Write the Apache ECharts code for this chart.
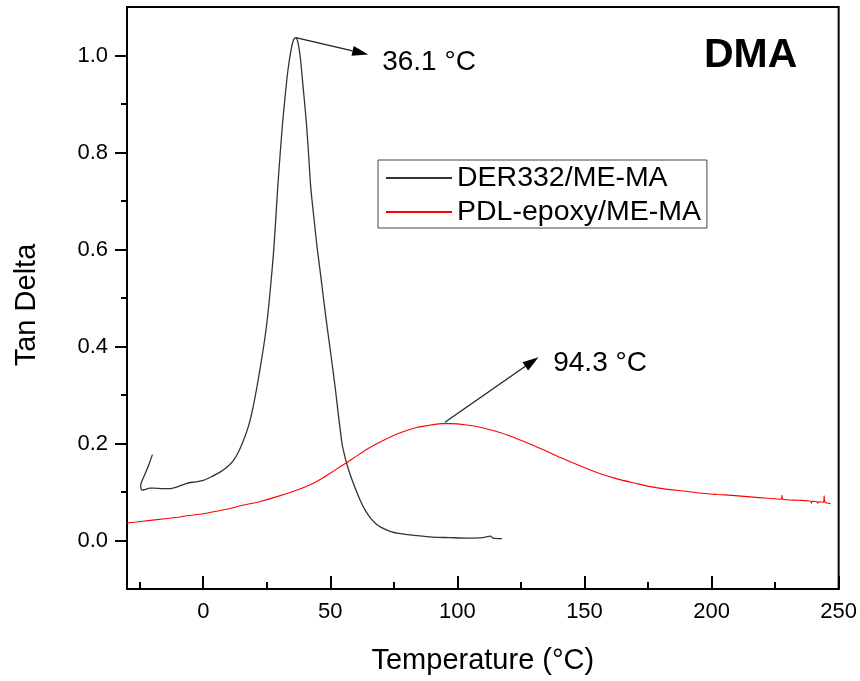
<!DOCTYPE html>
<html>
<head>
<meta charset="utf-8">
<script src="https://cdn.jsdelivr.net/npm/echarts@6/dist/echarts.min.js"></script>
<style>
html,body{margin:0;padding:0;background:#fff;}
#chart{width:860px;height:681px;}
</style>
</head>
<body>
<div id="chart"></div>
<script>
// ---- data ----
var seriesNames = ['DER332/ME-MA', 'PDL-epoxy/ME-MA'];
var derData = [
  [-20.0,0.177],[-21.5,0.155],[-22.9,0.137],[-24.0,0.124],[-24.6,0.115],[-24.5,0.107],[-24.0,0.104],[-23.0,0.105],
  [-21.0,0.108],[-19.6,0.108],[-16.0,0.107],[-13.1,0.107],[-10.0,0.111],[-6.5,0.118],[-3.0,0.121],[0.0,0.124],
  [3.0,0.131],[6.6,0.141],[9.5,0.152],[11.9,0.165],[14.0,0.184],[15.8,0.206],[17.2,0.226],[18.4,0.247],
  [19.8,0.280],[21.1,0.316],[22.7,0.365],[24.3,0.419],[25.5,0.470],[26.6,0.530],[27.6,0.590],[28.5,0.660],
  [29.3,0.728],[30.3,0.800],[31.3,0.866],[32.3,0.920],[33.3,0.969],[34.5,1.010],[35.5,1.032],[36.4,1.037],
  [37.2,1.028],[38.1,1.000],[39.2,0.940],[40.5,0.866],[41.4,0.800],[42.3,0.728],[43.6,0.662],[44.9,0.600],
  [46.0,0.555],[47.3,0.500],[48.3,0.458],[49.3,0.419],[50.6,0.368],[51.9,0.316],[53.2,0.258],[54.6,0.200],
  [55.5,0.178],[56.3,0.161],[58.0,0.133],[60.0,0.105],[62.0,0.080],[64.0,0.060],[66.0,0.045],[68.0,0.034],
  [70.0,0.027],[73.5,0.019],[77.5,0.014],[84.0,0.010],[90.0,0.007],[97.0,0.006],[104.0,0.005],[110.0,0.006],
  [113.0,0.009],[114.0,0.005],[117.5,0.004]
];
var pdlData = [
  [-30,0.036],[-20,0.042],[-10,0.048],[-6.5,0.051],[0,0.055],[6.6,0.062],[10.5,0.066],[15,0.072],[22,0.080],
  [30,0.092],[38,0.106],[43.3,0.118],[47,0.129],[51.2,0.143],[56.5,0.161],[60,0.173],[64.4,0.188],[70,0.204],
  [77.5,0.222],[84,0.233],[90.6,0.239],[94.3,0.241],[97.2,0.241],[103.7,0.238],[110.3,0.232],[117,0.222],
  [123.4,0.210],[130,0.196],[136,0.182],[140.5,0.171],[149.6,0.151],[156,0.138],[162.8,0.127],[170,0.118],
  [175.9,0.111],[182,0.106],[189,0.102],[195,0.098],[202.2,0.095],[208,0.093],[215.3,0.090],[222,0.087],
  [227.4,0.085],[227.7,0.093],[228.0,0.085],[234,0.083],[239.0,0.081],[239.3,0.077],[239.6,0.081],[241.5,0.080],
  [241.8,0.077],[242.1,0.080],[244.0,0.079],[244.3,0.092],[244.6,0.079],[246.8,0.076]
];
var xMajorTicks = [0, 50, 100, 150, 200, 250];
var xMinorTicks = [-25, 25, 75, 125, 175, 225];
var yMajorTicks = [0.0, 0.2, 0.4, 0.6, 0.8, 1.0];
var yMinorTicks = [0.1, 0.3, 0.5, 0.7, 0.9];
// annotation arrows: [fromX, fromY, toX, toY, textX, textY]
var annoArrows = [
  [36.4, 1.037, 64.9, 1.002, 70.4, 0.985],
  [95.1, 0.244, 131.9, 0.378, 137.7, 0.365]
];
var annoLabels = ['36.1 \u00B0C', '94.3 \u00B0C'];

// ---- chart ----
var F = 'Liberation Sans, Arial, sans-serif';
var chart = echarts.init(document.getElementById('chart'), null, {renderer: 'canvas'});

var option = {
  animation: false,
  backgroundColor: '#fff',
  title: {
    text: 'DMA', left: 704, top: 35, padding: 0,
    textStyle: {fontSize: 41, fontWeight: 'bold', fontFamily: F, color: '#000'}
  },
  legend: {
    data: seriesNames,
    orient: 'vertical',
    left: 378, top: 160,
    padding: [3, 6, 1, 7],
    itemWidth: 66, itemHeight: 14, itemGap: 4,
    borderColor: '#444', borderWidth: 1,
    itemStyle: {opacity: 0},
    textStyle: {fontSize: 28.5, fontFamily: F, color: '#000', lineHeight: 30}
  },
  grid: {
    left: 127, right: 21, top: 7, bottom: 92,
    show: true, borderColor: '#000', borderWidth: 2, backgroundColor: 'transparent'
  },
  xAxis: [{
    type: 'value', min: -30, max: 250, position: 'bottom',
    axisLine: {show: true, onZero: false, lineStyle: {color: '#000', width: 2}},
    axisTick: {show: true, inside: true, length: 13, customValues: xMajorTicks, lineStyle: {color: '#000', width: 2}},
    axisLabel: {customValues: xMajorTicks, margin: 12, fontSize: 22, color: '#000', fontFamily: F},
    splitLine: {show: false},
    name: 'Temperature (\u00B0C)', nameLocation: 'middle', nameGap: 57,
    nameTextStyle: {fontSize: 29, fontFamily: F, color: '#000'}
  }, {
    type: 'value', min: -30, max: 250, position: 'bottom',
    axisLine: {show: false, onZero: false},
    axisTick: {show: true, inside: true, length: 7, customValues: xMinorTicks, lineStyle: {color: '#000', width: 2}},
    axisLabel: {show: false},
    splitLine: {show: false}
  }],
  yAxis: [{
    type: 'value', min: -0.1, max: 1.1, position: 'left',
    axisLine: {show: true, onZero: false, lineStyle: {color: '#000', width: 2}},
    axisTick: {show: true, inside: false, length: 12, customValues: yMajorTicks, lineStyle: {color: '#000', width: 2}},
    axisLabel: {customValues: yMajorTicks, margin: 19, fontSize: 22, color: '#000', fontFamily: F,
      formatter: function (v) { return v.toFixed(1); }},
    splitLine: {show: false},
    name: 'Tan Delta', nameLocation: 'middle', nameGap: 86,
    nameTextStyle: {fontSize: 29, fontFamily: F, color: '#000', padding: [0, 14, 0, 0]}
  }, {
    type: 'value', min: -0.1, max: 1.1, position: 'left',
    axisLine: {show: false, onZero: false},
    axisTick: {show: true, inside: false, length: 6, customValues: yMinorTicks, lineStyle: {color: '#000', width: 2}},
    axisLabel: {show: false},
    splitLine: {show: false}
  }],
  series: [{
    name: seriesNames[0], type: 'line', data: derData, symbol: 'none', smooth: 0.25,
    xAxisIndex: 0, yAxisIndex: 0,
    lineStyle: {color: '#333', width: 1.3}, itemStyle: {color: '#333'}
  }, {
    name: seriesNames[1], type: 'line', data: pdlData, symbol: 'none', smooth: 0.25,
    xAxisIndex: 0, yAxisIndex: 0,
    lineStyle: {color: '#ff0000', width: 1.1}, itemStyle: {color: '#ff0000'}
  }, {
    name: 'annotations', type: 'custom', xAxisIndex: 0, yAxisIndex: 0,
    data: annoArrows, clip: false, silent: true,
    encode: {x: [0, 2, 4], y: [1, 3, 5]},
    renderItem: function (params, api) {
      var p0 = api.coord([api.value(0), api.value(1)]);
      var p1 = api.coord([api.value(2), api.value(3)]);
      var t = api.coord([api.value(4), api.value(5)]);
      var ang = Math.atan2(p1[1] - p0[1], p1[0] - p0[0]);
      var L = 16, W = 5;
      var c = Math.cos(ang), s = Math.sin(ang);
      var base = [p1[0] - L * c, p1[1] - L * s];
      return {
        type: 'group',
        children: [
          {type: 'line', shape: {x1: p0[0], y1: p0[1], x2: base[0], y2: base[1]},
            style: {stroke: '#222', lineWidth: 1.3}},
          {type: 'polygon', shape: {points: [p1, [base[0] - W * s, base[1] + W * c], [base[0] + W * s, base[1] - W * c]]},
            style: {fill: '#000'}},
          {type: 'text', x: t[0], y: t[1],
            style: {text: annoLabels[params.dataIndex], fontSize: 28, fontFamily: F,
              fill: '#000', align: 'left', verticalAlign: 'middle'}}
        ]
      };
    }
  }]
};
chart.setOption(option);
</script>
</body>
</html>
